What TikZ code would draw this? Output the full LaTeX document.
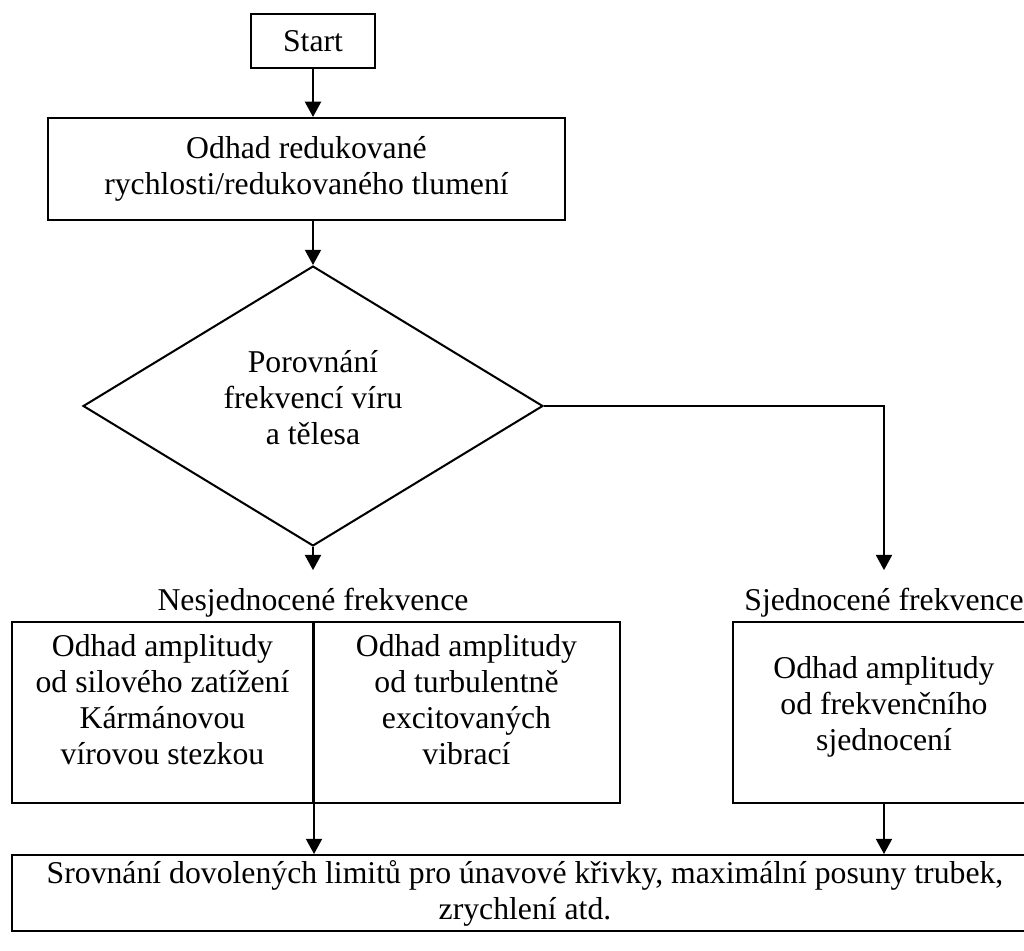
\documentclass[tikz,border=0pt]{standalone}
\usepackage{fontspec}
\setmainfont{Liberation Serif}
\usetikzlibrary{arrows.meta,positioning,shapes.geometric}

\begin{document}
\begin{tikzpicture}[
    x=0.394pt, y=-0.394pt,
    every node/.style={font=\fontsize{12.5}{14.2}\selectfont, align=center},
    box/.style={draw=black, line width=0.8pt, inner sep=0pt},
    decision/.style={diamond, draw=black, line width=0.8pt, inner sep=0pt, shape aspect=1.65},
    lbl/.style={inner xsep=2pt, inner ysep=7pt},
    arrow/.style={line width=0.8pt, -{Triangle[length=6pt,width=6.3pt]}},
  ]
    \useasboundingbox (0,0) rectangle (1024,951);
    \node[box, minimum width=48.9pt, minimum height=21.3pt] (start) at (313,41) {Start};
    \node[box, minimum width=203.7pt, minimum height=40.2pt] (estimate) at (306.5,169)
      {Odhad redukované\\rychlosti/redukovaného tlumení};
    \node[decision, minimum width=181.2pt, minimum height=110.3pt] (compare) at (313,406) {};
    \node at (313,398) {Porovnání\\frekvencí víru\\a tělesa};
    \node[lbl] (unsynclbl) at (313,603) {Nesjednocené frekvence};
    \node[lbl] (synclbl) at (884,603) {Sjednocené frekvence};
    \node[box, minimum width=118.6pt, minimum height=71.3pt] (karman) at (162.5,712.5) {};
    \node at (162.5,700) {Odhad amplitudy\\od silového zatížení\\Kármánovou\\vírovou stezkou};
    \node[box, minimum width=121pt, minimum height=71.3pt] (turb) at (466.5,712.5) {};
    \node at (466.5,700) {Odhad amplitudy\\od turbulentně\\excitovaných\\vibrací};
    \node[box, minimum width=119pt, minimum height=71.3pt] (lockin) at (884,712.5) {};
    \node at (884,707) {Odhad amplitudy\\od frekvenčního\\sjednocení};
    \node[box, minimum width=404.2pt, minimum height=29.9pt] (check) at (525,893)
      {Srovnání dovolených limitů pro únavové křivky, maximální posuny trubek,\\zrychlení atd.};
    % connectors
    \draw[arrow] (start) -- (start |- estimate.north);
    \draw[arrow] (start |- estimate.south) -- (compare.north);
    \draw[arrow] (compare.south) -- (unsynclbl.north);
    \draw[arrow] (compare.east) -| (synclbl.north);
    \draw[arrow] (karman.north east) -- (karman.north east |- check.north);
    \draw[arrow] (lockin.south) -- (lockin.south |- check.north);
  \end{tikzpicture}
\end{document}
